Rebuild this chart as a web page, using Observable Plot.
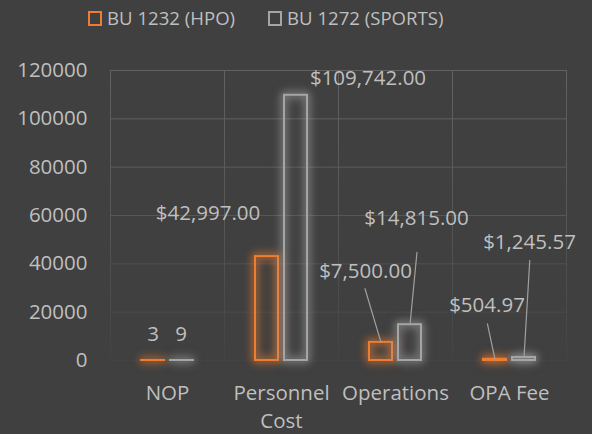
<!DOCTYPE html>
<html>
<head>
<meta charset="utf-8">
<script src="https://cdn.jsdelivr.net/npm/d3@7"></script>
<script src="https://cdn.jsdelivr.net/npm/@observablehq/plot@0.6"></script>
<style>
  html, body { margin: 0; padding: 0; background: #404040; }
  body { width: 592px; height: 434px; overflow: hidden; font-family: "Open Sans", sans-serif; }
  #legend { height: 44px; position: relative; color: #BFBFBF; font-size: 18.6px; }
  .item { position: absolute; top: 3px; display: flex; align-items: center; white-space: nowrap; line-height: 30px; }
  .sw { width: 10px; height: 11px; border: 2px solid; margin-right: 5px; box-sizing: content-box; }
  #chart svg { display: block; }
</style>
</head>
<body>
<div id="legend"></div>
<div id="chart"></div>
<script>
// ---- data ----
const categories = ["NOP", "Personnel Cost", "Operations", "OPA Fee"];
const seriesNames = ["BU 1232 (HPO)", "BU 1272 (SPORTS)"];
const hpoValues = [3, 42997, 7500, 504.97];
const sportsValues = [9, 109742, 14815, 1245.57];
const hpoLabels = ["3", "$42,997.00", "$7,500.00", "$504.97"];
const sportsLabels = ["9", "$109,742.00", "$14,815.00", "$1,245.57"];
const yTicks = [0, 20000, 40000, 60000, 80000, 100000, 120000];
const seriesColors = ["#ED7D31", "#A5A5A5"];

// ---- layout (pixel offsets of data labels relative to bar tops) ----
const labelOffsets = [
  [[0, -26], [-1, -26]],
  [[-59, -43], [72, -17]],
  [[-15.5, -71], [6.5, -106]],
  [[-8, -54], [5.5, -115]]
];
const leaderLines = [
  {cat: 2, s: 0, length: 56, rotate: -16.6},
  {cat: 2, s: 1, length: 72.6, rotate: 5.5},
  {cat: 3, s: 0, length: 36.3, rotate: -12},
  {cat: 3, s: 1, length: 97.2, rotate: 3.4}
];

// ---- table ----
const rows = [];
categories.forEach((c, i) => {
  rows.push({category: c, series: seriesNames[0], value: hpoValues[i], label: hpoLabels[i], ci: i, si: 0});
  rows.push({category: c, series: seriesNames[1], value: sportsValues[i], label: sportsLabels[i], ci: i, si: 1});
});

// ---- legend ----
const legend = document.getElementById("legend");
const legendLeft = [88, 268];
seriesNames.forEach((s, i) => {
  const item = document.createElement("div");
  item.className = "item";
  item.style.left = legendLeft[i] + "px";
  const sw = document.createElement("span");
  sw.className = "sw";
  sw.style.borderColor = seriesColors[i];
  const t = document.createElement("span");
  t.textContent = s;
  item.appendChild(sw);
  item.appendChild(t);
  legend.appendChild(item);
});

const line = {
  draw(context, l) { context.moveTo(0, 0); context.lineTo(0, -l); }
};

const marks = [
  Plot.gridY(yTicks, {stroke: "url(#gridfade)", strokeOpacity: 1, strokeWidth: 1}),
  Plot.frame({stroke: "url(#gridfade)", strokeOpacity: 1}),
  Plot.barY(rows, {fx: "category", x: "series", y: "value", stroke: "series", fill: "none", strokeWidth: 2}),
  Plot.axisY(yTicks, {anchor: "left", tickSize: 0, tickPadding: 23, label: null, tickFormat: d3.format("d")}),
  Plot.axisFx({anchor: "bottom", tickSize: 0, tickPadding: 19, lineHeight: 1.38, label: null,
    tickFormat: d => d === "Personnel Cost" ? "Personnel\nCost" : d})
];
rows.forEach(r => {
  const [dx, dy] = labelOffsets[r.ci][r.si];
  marks.push(Plot.text([r], {fx: "category", x: "series", y: "value", text: "label", dx, dy,
    fill: "#BFBFBF", lineAnchor: "middle", textAnchor: "middle"}));
});
leaderLines.forEach(L => {
  const r = rows.find(d => d.ci === L.cat && d.si === L.s);
  marks.push(Plot.vector([r], {fx: "category", x: "series", y: "value", length: L.length, rotate: L.rotate,
    anchor: "start", shape: line, stroke: "#A0A0A0", strokeWidth: 1.2}));
});

const chart = Plot.plot({
  width: 592,
  height: 390,
  marginTop: 26,
  marginBottom: 74,
  marginLeft: 110,
  marginRight: 26,
  style: {background: "transparent", color: "#BFBFBF", fontFamily: "'Open Sans', sans-serif", fontSize: "20.5px"},
  fx: {domain: categories, padding: 0, label: null},
  x: {domain: seriesNames, paddingInner: 0.224, paddingOuter: 1.07, axis: null},
  y: {domain: [0, 120000], axis: null, label: null},
  color: {domain: seriesNames, range: seriesColors},
  marks
});

// gradient for fading gridlines
const svg = d3.select(chart);
const defs = svg.insert("defs", ":first-child");
const g = defs.append("linearGradient").attr("id", "gridfade")
  .attr("gradientUnits", "userSpaceOnUse").attr("x1", 0).attr("y1", 26).attr("x2", 0).attr("y2", 316);
g.append("stop").attr("offset", 0).attr("stop-color", "#626262");
g.append("stop").attr("offset", 0.5).attr("stop-color", "#575757");
g.append("stop").attr("offset", 1).attr("stop-color", "#434343");

// glow on bars
svg.selectAll('g[aria-label="bar"] rect').each(function () {
  const c = this.getAttribute("stroke") || "#A5A5A5";
  this.style.filter = `drop-shadow(0 0 5px ${c}) drop-shadow(0 0 3px ${c}aa)`;
});

document.getElementById("chart").appendChild(chart);
</script>
</body>
</html>
